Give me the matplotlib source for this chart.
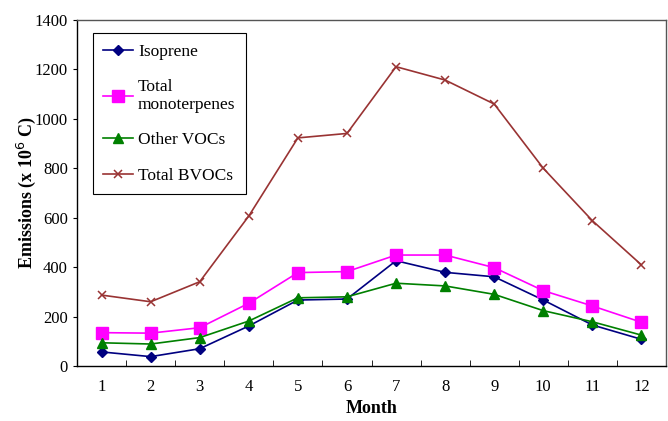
import numpy as np
import matplotlib.pyplot as plt

months = np.arange(1, 13)
isoprene = [57, 38, 70, 162, 267, 271, 426, 379, 361, 267, 166, 108]
monoterpenes = [135, 133, 155, 254, 378, 382, 449, 449, 398, 305, 243, 177]
other_vocs = [94, 89, 115, 182, 276, 280, 335, 324, 290, 224, 179, 125]
total_bvocs = [287, 260, 341, 607, 923, 941, 1211, 1157, 1060, 800, 588, 409]

plt.rcParams['font.family'] = ['Liberation Serif', 'DejaVu Serif']

fig = plt.figure(figsize=(6.68, 4.21), dpi=100)
ax = fig.add_axes([0.1153, 0.1306, 0.8817, 0.8219])

ax.plot(months, isoprene, color='#000080', marker='D', markersize=5.5, lw=1.2, label='Isoprene')
ax.plot(months, monoterpenes, color='#ff00ff', marker='s', markersize=8, lw=1.2, label='Total\nmonoterpenes')
ax.plot(months, other_vocs, color='#008000', marker='^', markersize=7.5, lw=1.2, label='Other VOCs')
ax.plot(months, total_bvocs, color='#993333', marker='x', markersize=6, mew=1.1, lw=1.2, label='Total BVOCs')

ax.set_xlim(0.5, 12.5)
ax.set_ylim(0, 1400)
ax.set_yticks(np.arange(0, 1401, 200))
ax.set_xticks(months)
ax.set_xticks(np.arange(1.5, 12.5, 1), minor=True)
ax.tick_params(axis='x', which='major', length=0, pad=9, labelsize=12)
ax.tick_params(axis='x', which='minor', direction='in', length=4)
ax.tick_params(axis='y', direction='out', length=3, labelsize=12)

for s in ax.spines.values():
    s.set_linewidth(1.0)
ax.spines['top'].set_color('#555555')
ax.spines['right'].set_color('#555555')

ax.set_xlabel('Month', fontsize=13, fontweight='bold', labelpad=4)
ax.set_ylabel('Emissions (x 10$^6$ C)', fontsize=13, fontweight='bold', labelpad=-2)

leg = ax.legend(loc='upper left', bbox_to_anchor=(0.027, 0.962), borderaxespad=0,
                fancybox=False, edgecolor='black', framealpha=1, fontsize=12.5,
                labelspacing=1.1, handlelength=1.7, handletextpad=0.3, borderpad=0.6)
leg.get_frame().set_linewidth(0.8)

fig.savefig('out.png', dpi=100)
